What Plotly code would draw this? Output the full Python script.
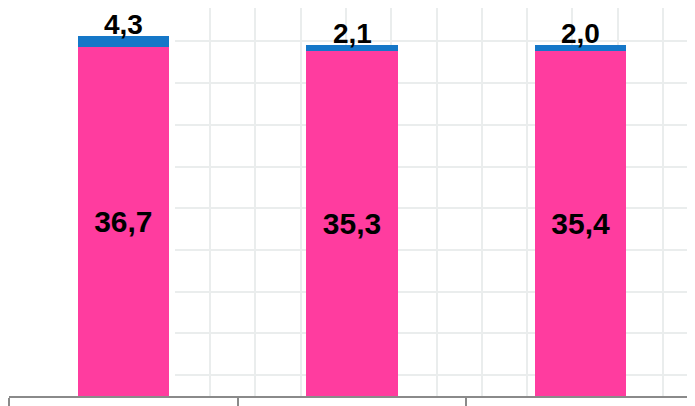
import math
import plotly.graph_objects as go

categories = ["A", "B", "C"]
base_values = [36.7, 35.3, 35.4]
top_values = [4.3, 2.1, 2.0]

pink = "#FF3C9F"
blue = "#1577C8"


def fmt(v):
    return f"{v:.1f}".replace(".", ",")


fig = go.Figure()

# empty trace to host the graph-paper background grid
fig.add_trace(go.Scatter(x=[], y=[], xaxis="x", yaxis="y", showlegend=False, hoverinfo="skip"))

fig.add_trace(go.Bar(
    x=categories, y=base_values, xaxis="x2", yaxis="y2",
    marker=dict(color=pink, line=dict(width=0)),
    text=[fmt(v) for v in base_values], textposition="inside",
    insidetextanchor="middle",
    textfont=dict(family="Liberation Sans", size=30, color="black", weight="bold"),
    name="Serie 1", showlegend=False,
))
fig.add_trace(go.Bar(
    x=categories, y=top_values, xaxis="x2", yaxis="y2",
    marker=dict(color=blue, line=dict(width=0)),
    name="Serie 2", showlegend=False,
))

for c, b, t in zip(categories, base_values, top_values):
    fig.add_annotation(
        x=c, y=math.log10(b + t), xref="x2", yref="y2",
        text=fmt(t), showarrow=False, yanchor="bottom", xanchor="center",
        yshift=-5, borderpad=0,
        font=dict(family="Liberation Sans", size=28, color="black", weight="bold"),
    )

grid_color = "#EAEDED"
fig.update_layout(
    width=695, height=406,
    margin=dict(l=1, r=8, t=0, b=18),
    paper_bgcolor="white",
    plot_bgcolor="rgba(0,0,0,0)",
    barmode="stack",
    bargap=0.6,
    xaxis=dict(domain=[0.242, 1], range=[175, 695], tick0=210, dtick=45.3,
               showgrid=True, gridcolor=grid_color, gridwidth=2,
               showticklabels=False, zeroline=False, showline=False, ticks="",
               fixedrange=True),
    yaxis=dict(domain=[0, 1], range=[0, 388], tick0=21, dtick=41.7,
               showgrid=True, gridcolor=grid_color, gridwidth=2,
               showticklabels=False, zeroline=False, showline=False, ticks="",
               fixedrange=True),
    xaxis2=dict(domain=[0, 1], anchor="y2", type="category", range=[-0.5, 2.5],
                showline=True, linecolor="#8A8A8A", linewidth=2,
                ticks="outside", tickson="boundaries", ticklen=12,
                tickcolor="#8A8A8A", tickwidth=1.5,
                showticklabels=False, showgrid=False, zeroline=False),
    yaxis2=dict(domain=[0, 1], anchor="x2", type="log", range=[0.0342, 1.736],
                showgrid=False, showticklabels=False, zeroline=False,
                showline=False, ticks=""),
    showlegend=False,
)

fig.write_html("out.html")
